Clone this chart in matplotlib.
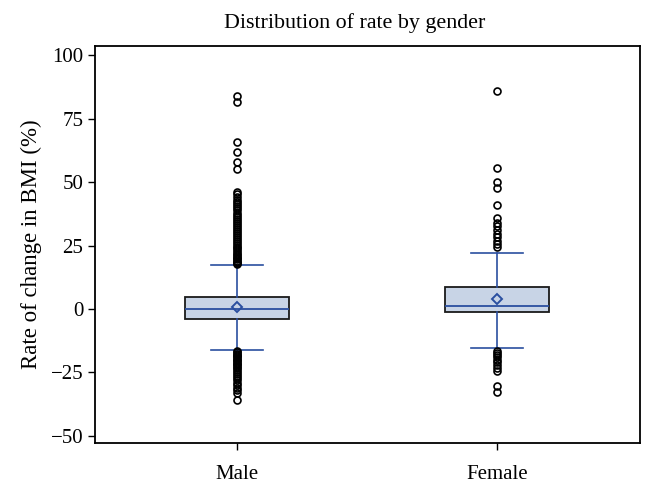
import matplotlib
matplotlib.use("Agg")
import matplotlib.pyplot as plt

plt.rcParams["font.family"] = ["Liberation Serif", "DejaVu Serif"]

# summary statistics
groups = ["Male", "Female"]
q1 = [-3.9, -1.2]
medians = [0.0, 1.3]
q3 = [4.8, 8.6]
means = [0.7, 4.1]
whisker_low = [-16.2, -15.2]
whisker_high = [17.4, 22.0]

male_outliers = [
    83.8, 81.6, 65.9, 61.9, 58.0, 55.2,
    46.0, 45.2, 44.0, 43.0, 42.1, 41.2, 40.4, 39.6, 38.8, 38.0, 37.2,
    36.4, 35.6, 34.8, 34.0, 33.2, 32.4, 31.6, 30.8, 30.0, 29.2, 28.4,
    27.6, 26.8, 26.0, 25.3, 24.6, 23.9, 23.2, 22.5, 21.8, 21.2, 20.6,
    20.0, 19.5, 19.0, 18.6, 18.2, 17.9,
    -16.6, -17.1, -17.6, -18.1, -18.6, -19.1, -19.6, -20.1, -20.6, -21.1,
    -21.6, -22.2, -22.8, -23.4, -24.0, -24.8, -25.6, -26.4, -27.2, -28.0,
    -29.0, -30.0, -31.0, -32.0, -33.2, -35.8,
]
female_outliers = [
    86.0, 55.6, 50.0, 47.8, 41.0, 35.8, 34.0, 32.5, 31.0, 29.5, 28.2,
    26.8, 25.5, 24.3,
    -16.4, -17.2, -18.0, -19.0, -20.0, -21.0, -22.0, -23.2, -24.6,
    -30.3, -32.6,
]
outliers = [male_outliers, female_outliers]

stats = []
for i, name in enumerate(groups):
    stats.append({
        "label": name,
        "q1": q1[i], "med": medians[i], "q3": q3[i], "mean": means[i],
        "whislo": whisker_low[i], "whishi": whisker_high[i],
        "fliers": outliers[i],
    })

blue = "#2a4fa0"

fig = plt.figure(figsize=(6.53, 4.86), dpi=100)
ax = fig.add_axes([95 / 653, 1 - 443 / 486, 545 / 653, 397 / 486])

ax.bxp(
    stats, positions=[1, 2], widths=0.4, showmeans=True, patch_artist=True,
    boxprops=dict(facecolor="#c8d4e6", edgecolor="#1a1a1a", linewidth=1.3),
    medianprops=dict(color=blue, linewidth=1.3),
    whiskerprops=dict(color=blue, linewidth=1.2),
    capprops=dict(color=blue, linewidth=1.2),
    capwidths=0.2,
    meanprops=dict(marker="D", markerfacecolor="none", markeredgecolor=blue,
                   markeredgewidth=1.4, markersize=5.5),
    flierprops=dict(marker="o", markerfacecolor="none", markeredgecolor="black",
                    markeredgewidth=1.2, markersize=5),
)

ax.set_xlim(0.455, 2.55)
ax.set_ylim(-52.8, 103.6)
ax.set_yticks([-50, -25, 0, 25, 50, 75, 100])
ax.set_xticks([1, 2])
ax.set_xticklabels(groups)
ax.tick_params(labelsize=15, direction="out", length=5, width=1)
ax.tick_params(axis="x", pad=11)
for s in ax.spines.values():
    s.set_linewidth(1.3)

ax.set_ylabel("Rate of change in BMI (%)", fontsize=16.5, labelpad=6)
ax.set_title("Distribution of rate by gender", fontsize=15.8, pad=13, x=0.477)

fig.savefig("out.png", dpi=100)
